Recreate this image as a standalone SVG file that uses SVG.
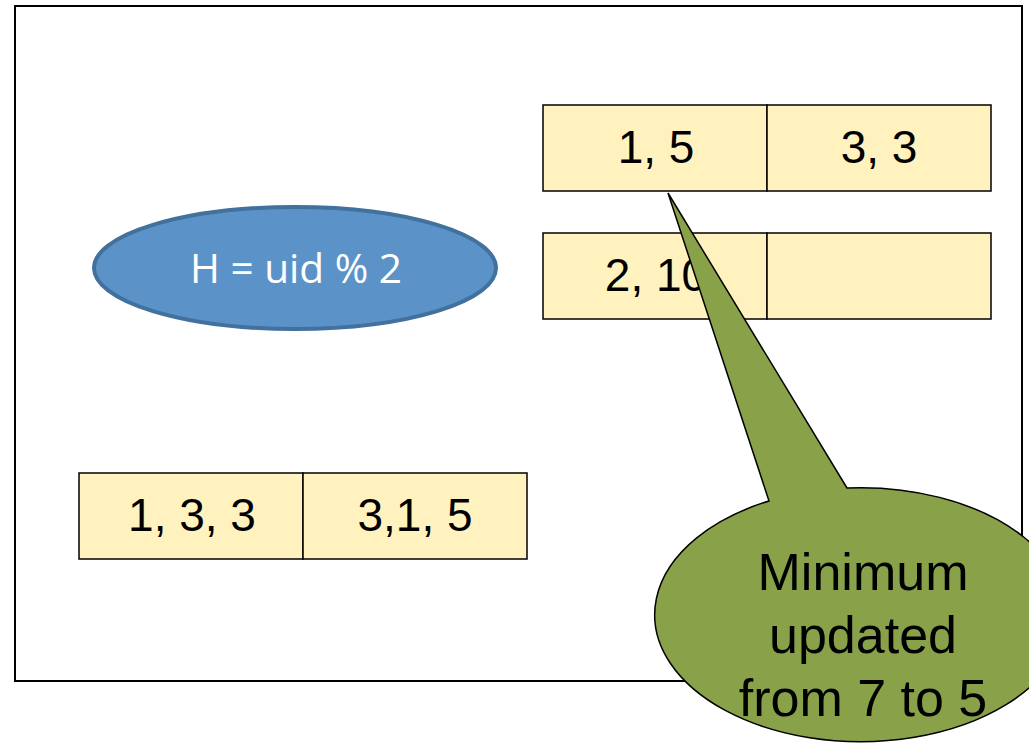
<svg xmlns="http://www.w3.org/2000/svg" width="1029" height="743" viewBox="0 0 1029 743">
  <style>
    .cell { fill: #FFF2BF; stroke: #000; stroke-width: 1.5; }
    .val { font-family: "Liberation Sans", Arial, sans-serif; font-size: 46px; fill: #000; text-anchor: middle; }
    .note { font-family: "Liberation Sans", Arial, sans-serif; font-size: 52px; fill: #000; text-anchor: middle; }
  </style>
  <rect width="1029" height="743" fill="#fff"/>
  <!-- slide frame -->
  <rect x="15" y="6" width="1007" height="675" fill="none" stroke="#000" stroke-width="2"/>

  <!-- hash function -->
  <g id="hash">
    <ellipse cx="295" cy="268" rx="201" ry="61" fill="#5B93C8" stroke="#41719C" stroke-width="4"/>
    <text x="296" y="283" font-family="'Open Sans', sans-serif" font-size="40" fill="#fff" text-anchor="middle" textLength="212" lengthAdjust="spacingAndGlyphs">H = uid % 2</text>
  </g>

  <!-- bucket 0 -->
  <g id="bucket0">
    <rect class="cell" x="543" y="105" width="224" height="86"/>
    <rect class="cell" x="767" y="105" width="224" height="86"/>
    <text class="val" x="656" y="163">1, 5</text>
    <text class="val" x="879" y="163">3, 3</text>
  </g>

  <!-- bucket 1 -->
  <g id="bucket1">
    <rect class="cell" x="543" y="233" width="224" height="86"/>
    <rect class="cell" x="767" y="233" width="224" height="86"/>
    <text class="val" x="656" y="291">2, 10</text>
  </g>

  <!-- input records -->
  <g id="input">
    <rect class="cell" x="79" y="473" width="224" height="86"/>
    <rect class="cell" x="303" y="473" width="224" height="86"/>
    <text class="val" x="192" y="531">1, 3, 3</text>
    <text class="val" x="415" y="531">3,1, 5</text>
  </g>

  <!-- speech callout -->
  <g id="callout">
    <path d="M 847 488 L 668 193 L 769 501 A 206 127 0 1 0 847 488 Z" fill="#89A24A" stroke="#000" stroke-width="1.5" stroke-linejoin="miter"/>
    <text class="note" x="863" y="590">Minimum</text>
    <text class="note" x="863" y="653">updated</text>
    <text class="note" x="863" y="716">from 7 to 5</text>
  </g>
</svg>
